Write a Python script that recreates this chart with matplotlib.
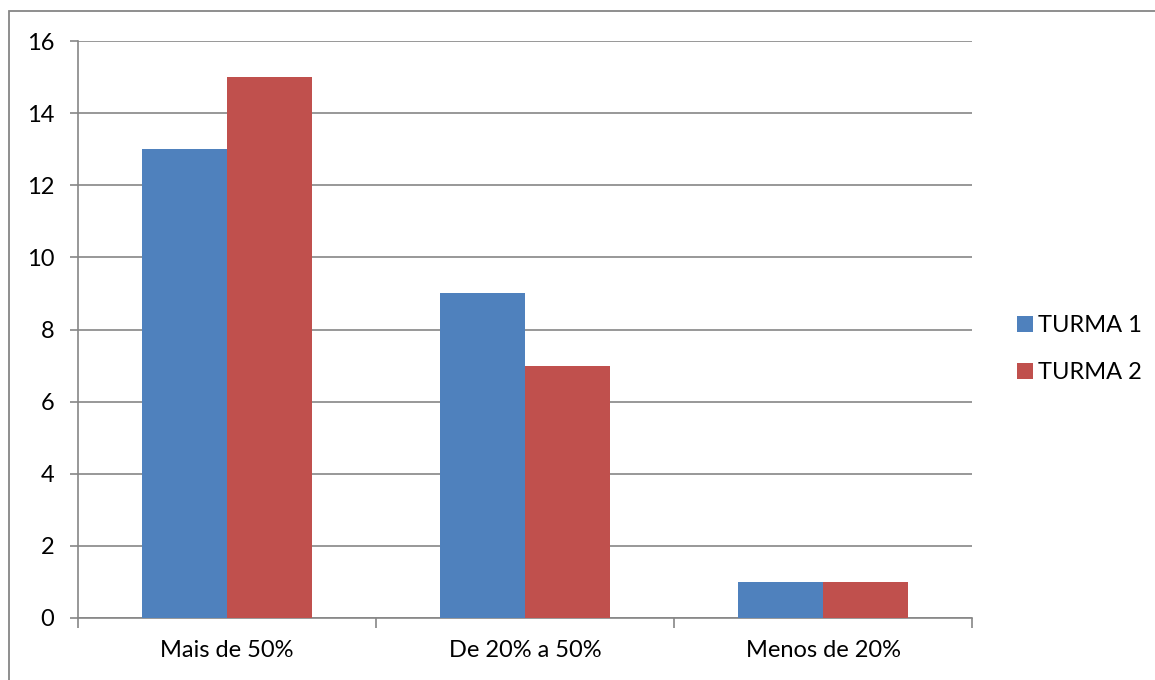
import numpy as np
import matplotlib
matplotlib.use("Agg")
import matplotlib.pyplot as plt
from matplotlib.patches import Rectangle

categories = ["Mais de 50%", "De 20% a 50%", "Menos de 20%"]
turma1 = [13, 9, 1]
turma2 = [15, 7, 1]
series_names = ["TURMA 1", "TURMA 2"]

C_BLUE = "#4F81BD"
C_RED = "#C0504D"
C_GRID = "#868686"

plt.rcParams["font.family"] = ["Lato", "DejaVu Sans"]

W, H = 1155, 680
fig = plt.figure(figsize=(W / 100, H / 100), dpi=100)
ax = fig.add_axes([78 / W, 1 - 618 / H, 894 / W, 577 / H])

x = np.arange(len(categories))
bw = 85 / 298
ax.bar(x - bw / 2, turma1, width=bw, color=C_BLUE, label=series_names[0], zorder=3)
ax.bar(x + bw / 2, turma2, width=bw, color=C_RED, label=series_names[1], zorder=3)

ax.set_xlim(-0.5, len(categories) - 0.5)
ax.set_ylim(0, 16)
ax.set_yticks(range(0, 17, 2))
ax.yaxis.grid(True, color=C_GRID, lw=1.2)
ax.set_axisbelow(True)

ax.set_xticks(x)
ax.set_xticklabels(categories)
ax.set_xticks(np.arange(-0.5, len(categories)), minor=True)
ax.tick_params(axis="x", which="major", length=0, pad=16, labelsize=17)
ax.tick_params(axis="x", which="minor", length=7, width=1.2, color=C_GRID)
ax.tick_params(axis="y", length=6, width=1.2, color=C_GRID, pad=11, labelsize=17)

for s in ("top", "right"):
    ax.spines[s].set_visible(False)
for s in ("left", "bottom"):
    ax.spines[s].set_color(C_GRID)
    ax.spines[s].set_linewidth(1.2)

ax.legend(loc="center left", bbox_to_anchor=(996 / W, 1 - 349 / H),
          bbox_transform=fig.transFigure, frameon=False, fontsize=17,
          handlelength=0.65, handleheight=0.65, handletextpad=0.25,
          labelspacing=1.1)

fig.patches.append(Rectangle((9 / W, -0.05), 1.2, 1 - 11 / H + 0.05,
                             transform=fig.transFigure, fill=False,
                             edgecolor=C_GRID, lw=1.3))

fig.savefig("out.png", dpi=100)
